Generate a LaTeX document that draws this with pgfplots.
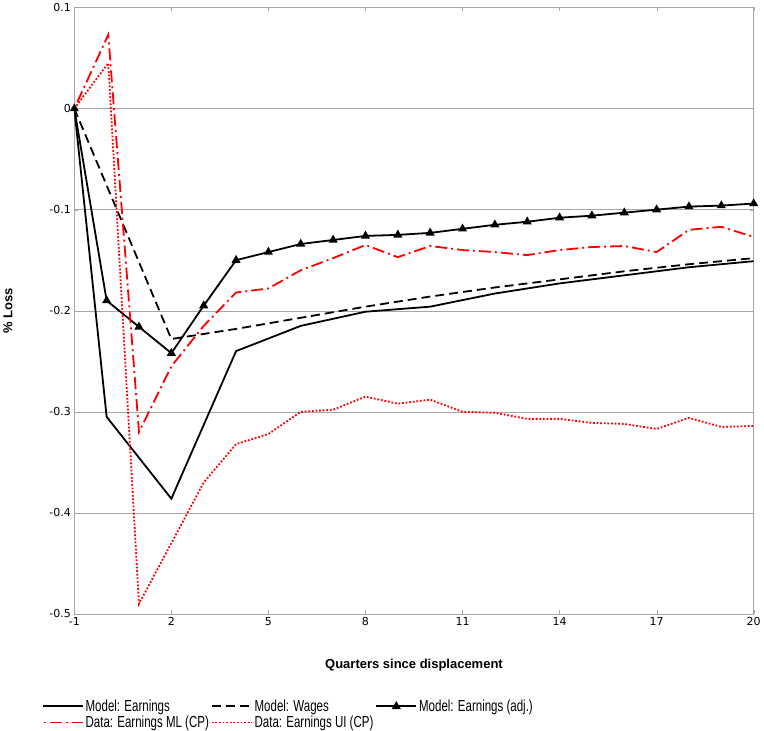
\documentclass[border=0pt]{standalone}
\usepackage{pgfplots}
\pgfplotsset{compat=1.18}
\usepackage{fontspec}
\setmainfont{DejaVu Sans}
\newfontfamily\lib{Liberation Sans}
\newfontfamily\libn[FakeStretch=0.72]{Liberation Sans}
\begin{document}
\begin{tikzpicture}
\begin{axis}[
  scale only axis, width=680pt, height=607pt,
  xmin=-1, xmax=20, ymin=-0.5, ymax=0.1,
  xtick={-1,2,5,8,11,14,17,20},
  ytick={-0.5,-0.4,-0.3,-0.2,-0.1,0,0.1},
  yticklabels={-0.5,-0.4,-0.3,-0.2,-0.1,0,0.1},
  /pgf/number format/assume math mode=true,
  ymajorgrids, major grid style={gray!70},
  axis line style={gray!70}, tick style={gray!70},
  major tick length=4pt,
  tick label style={font=\fontsize{11}{13}\selectfont},
  xlabel={\lib\bfseries Quarters since displacement},
  ylabel={\lib\bfseries \% Loss},
  label style={font=\fontsize{13}{15}\selectfont},
  xlabel style={yshift=-26pt},
  ylabel style={yshift=30pt},
  legend style={draw=none, at={(-0.048,-0.138)}, anchor=north west,
    font=\libn\fontsize{16}{18}\selectfont, inner sep=0pt, row sep=-1pt,
    /tikz/every odd column/.append style={text width=100pt, inner xsep=3pt}},
  legend image code/.code={\draw[#1] (0pt,0pt) -- (40pt,0pt); \draw[#1,only marks] plot coordinates {(20pt,0pt)};},
  legend columns=3,
  legend cell align=left,
]
\addplot[black, line width=1.8pt] coordinates {(-1,0)(0,-0.305)(2,-0.386)(4,-0.24)(6,-0.215)(8,-0.201)(10,-0.196)(12,-0.183)(14,-0.173)(16,-0.165)(18,-0.157)(20,-0.151)};
\addlegendentry{Model: Earnings}
\addplot[black, line width=1.8pt, dash pattern=on 9pt off 5pt] coordinates {(-1,0)(2,-0.228)(4,-0.218)(6,-0.207)(8,-0.196)(10,-0.186)(12,-0.177)(14,-0.169)(16,-0.161)(18,-0.154)(20,-0.148)};
\addlegendentry{Model: Wages}
\addplot[black, line width=1.8pt, mark=triangle*, mark size=3.5pt] coordinates {(-1,0)(0,-0.19)(1,-0.216)(2,-0.242)(3,-0.195)(4,-0.15)(5,-0.142)(6,-0.134)(7,-0.130)(8,-0.126)(9,-0.125)(10,-0.123)(11,-0.119)(12,-0.115)(13,-0.112)(14,-0.108)(15,-0.106)(16,-0.103)(17,-0.100)(18,-0.097)(19,-0.096)(20,-0.094)};
\addlegendentry{Model: Earnings (adj.)}
\addplot[red, line width=1.8pt, dash pattern=on 12pt off 4pt on 2pt off 4pt, dash phase=-7pt] coordinates {(-1,0)(0.05,0.073)(1,-0.32)(2,-0.255)(3,-0.215)(4,-0.182)(5,-0.178)(6,-0.16)(7,-0.148)(8,-0.135)(9,-0.147)(10,-0.136)(11,-0.14)(12,-0.142)(13,-0.145)(14,-0.14)(15,-0.137)(16,-0.136)(17,-0.142)(18,-0.12)(19,-0.117)(20,-0.127)};
\addlegendentry{Data: Earnings ML (CP)}
\addplot[red, line width=1.8pt, dash pattern=on 1.8pt off 1.8pt] coordinates {(-1,0)(0.05,0.045)(1,-0.49)(2,-0.43)(3,-0.37)(4,-0.332)(5,-0.322)(6,-0.3)(7,-0.298)(8,-0.285)(9,-0.292)(10,-0.288)(11,-0.3)(12,-0.301)(13,-0.307)(14,-0.307)(15,-0.311)(16,-0.312)(17,-0.317)(18,-0.306)(19,-0.315)(20,-0.314)};
\addlegendentry{Data: Earnings UI (CP)}
\end{axis}
\end{tikzpicture}
\end{document}
